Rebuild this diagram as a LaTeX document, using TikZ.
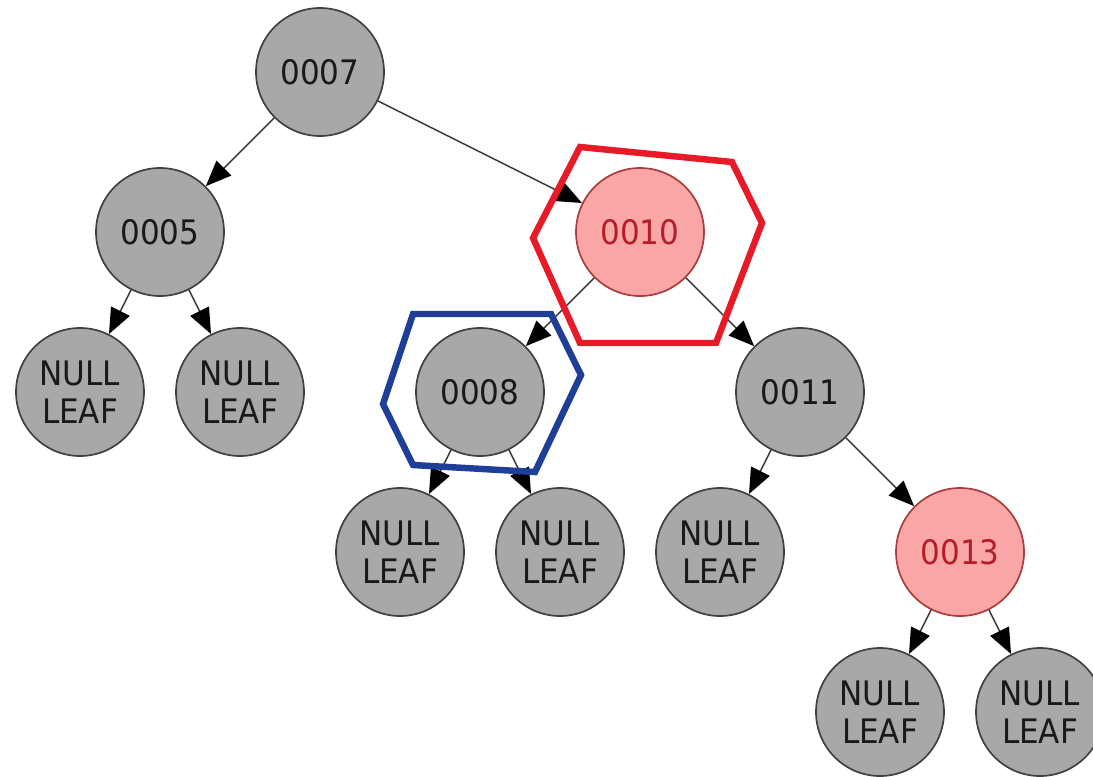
\documentclass[tikz,border=0pt]{standalone}
\usepackage{fontspec}
\setmainfont{DejaVu Sans}
\newfontfamily\nodefont[FakeStretch=0.92]{DejaVu Sans}
\usetikzlibrary{arrows.meta}

\definecolor{nodegray}{RGB}{168,168,168}
\definecolor{redfill}{RGB}{250,166,166}
\definecolor{reddraw}{RGB}{170,60,60}
\definecolor{redtext}{RGB}{180,30,42}
\definecolor{markred}{RGB}{232,26,40}
\definecolor{markblue}{RGB}{30,62,152}

\begin{document}
\begin{tikzpicture}[
    >={Triangle[length=3.2mm,width=2.6mm,color=black]},
    line join=round,
    tree node/.style={circle, draw=black!75, fill=nodegray, line width=0.6pt,
        minimum size=1.6cm, inner sep=0pt, align=center,
        font=\nodefont\fontsize{12}{13.5}\selectfont, text=black!90},
    red node/.style={tree node, draw=reddraw, fill=redfill, text=redtext},
    leaf/.style={tree node},
    link/.style={->, draw=black!80, line width=0.5pt},
    marker/.style={line width=2.3pt, line join=miter}
]

\useasboundingbox (0,0) rectangle (13.6625,-9.7);

% -------------------------------------------------
% Nodes
% -------------------------------------------------

\node[tree node] (n7) at (4,-0.9) {0007};

\node[tree node] (n5) at (2,-2.9) {0005};
\node[red node] (n10) at (8,-2.9) {0010};

\node[leaf] (l5a) at (1,-4.9) {NULL\\LEAF};
\node[leaf] (l5b) at (3,-4.9) {NULL\\LEAF};
\node[tree node] (n8) at (6,-4.9) {0008};
\node[tree node] (n11) at (10,-4.9) {0011};

\node[leaf] (l8a) at (5,-6.9) {NULL\\LEAF};
\node[leaf] (l8b) at (7,-6.9) {NULL\\LEAF};
\node[leaf] (l11a) at (9,-6.9) {NULL\\LEAF};
\node[red node] (n13) at (12,-6.9) {0013};

\node[leaf] (l13a) at (11,-8.9) {NULL\\LEAF};
\node[leaf] (l13b) at (13,-8.9) {NULL\\LEAF};

% -------------------------------------------------
% Links
% -------------------------------------------------

\draw[link] (n7) -- (n5);
\draw[link] (n7) -- (n10);

\draw[link] (n5) -- (l5a);
\draw[link] (n5) -- (l5b);

\draw[link] (n10) -- (n8);
\draw[link] (n10) -- (n11);

\draw[link] (n8) -- (l8a);
\draw[link] (n8) -- (l8b);

\draw[link] (n11) -- (l11a);
\draw[link] (n11) -- (n13);

\draw[link] (n13) -- (l13a);
\draw[link] (n13) -- (l13b);

% -------------------------------------------------
% Hexagon markers
% -------------------------------------------------

% Around 0010
\draw[marker, markred]
    (7.25,-1.8375) -- (9.15,-2.025) -- (9.525,-2.7875)
    -- (8.95,-4.2875) -- (7.25,-4.2875) -- (6.6625,-2.975) -- cycle;

% Around 0008
\draw[marker, markblue]
    (5.1625,-3.925) -- (6.8875,-3.925) -- (7.2625,-4.6875)
    -- (6.6875,-5.9) -- (5.1625,-5.8125) -- (4.7875,-5.05) -- cycle;

\end{tikzpicture}
\end{document}
